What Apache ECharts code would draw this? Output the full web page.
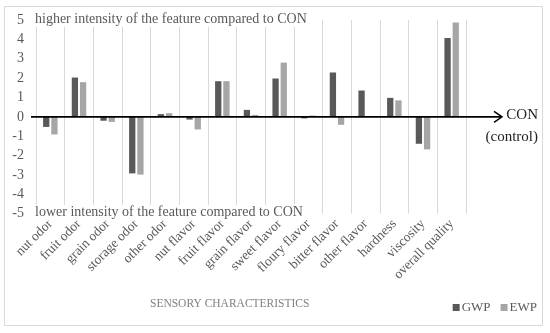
<!DOCTYPE html>
<html>
<head>
<meta charset="utf-8">
<script src="https://cdn.jsdelivr.net/npm/echarts@6/dist/echarts.min.js"></script>
<style>
html,body{margin:0;padding:0;background:#fff;}
#c{width:550px;height:333px;}
</style>
</head>
<body>
<div id="c"></div>
<script>
const categories = ['nut odor','fruit odor','grain odor','storage odor','other odor','nut flavor','fruit flavor','grain flavor','sweet flavor','floury flavor','bitter flavor','other flavor','hardness','viscosity','overall quality'];
const gwp = [-0.52, 2.03, -0.2, -2.92, 0.14, -0.14, 1.84, 0.36, 1.98, -0.08, 2.29, 1.36, 0.98, -1.39, 4.07];
const ewp = [-0.91, 1.79, -0.26, -2.98, 0.19, -0.65, 1.84, 0.1, 2.8, 0.07, -0.41, 0.03, 0.85, -1.68, 4.87];
const yTicks = [-5,-4,-3,-2,-1,0,1,2,3,4,5];

const FONT = '"Liberation Serif", "DejaVu Serif", serif';
const chart = echarts.init(document.getElementById('c'));
const option = {
  animation: false,
  backgroundColor: '#fff',
  grid: {left: 36, right: 84, top: 20, bottom: 119.3, containLabel: false},
  legend: {
    data: ['GWP','EWP'], right: 8, top: 296, icon: 'rect', itemWidth: 7, itemHeight: 7, itemGap: 10,
    textStyle: {fontFamily: FONT, fontSize: 13, color: '#595959', padding: [0,0,0,-3]}
  },
  xAxis: {
    type: 'category', data: categories,
    axisLine: {show: false}, axisTick: {show: false},
    axisLabel: {rotate: 45, interval: 0, margin: 8, fontFamily: FONT, fontSize: 13.5, color: '#595959'},
    splitLine: {show: true, lineStyle: {color: '#d9d9d9', width: 1}}
  },
  yAxis: {
    type: 'value', min: yTicks[0], max: yTicks[yTicks.length-1], interval: 1,
    axisLine: {show: false}, axisTick: {show: false}, splitLine: {show: false},
    axisLabel: {margin: 12, fontFamily: FONT, fontSize: 14, color: '#595959'}
  },
  series: [
    {name: 'GWP', type: 'bar', data: gwp, barWidth: 6.3, barGap: '30%', itemStyle: {color: '#595959'}},
    {name: 'EWP', type: 'bar', data: ewp, barWidth: 6.3, barGap: '30%', itemStyle: {color: '#a6a6a6'}}
  ]
};
chart.setOption(option);

const y0 = chart.convertToPixel({yAxisIndex: 0}, 0);
const y5 = chart.convertToPixel({yAxisIndex: 0}, 5);
const yM5 = chart.convertToPixel({yAxisIndex: 0}, -5);
const xEnd = 502;
chart.setOption({
  graphic: [
    {type: 'rect', shape: {x: 4.5, y: 6.5, width: 538, height: 319}, style: {fill: 'none', stroke: '#d9d9d9', lineWidth: 1}, z: 0},
    {type: 'text', left: 34, top: y5 - 9, style: {text: 'higher intensity of the feature compared to CON', fontFamily: FONT, fontSize: 14, fill: '#595959', backgroundColor: '#fff', padding: [1,2,1,1]}, z: 10},
    {type: 'text', left: 34, top: yM5 - 9, style: {text: 'lower intensity of the feature compared to CON', fontFamily: FONT, fontSize: 14, fill: '#595959', backgroundColor: '#fff', padding: [1,2,1,1]}, z: 10},
    {type: 'line', shape: {x1: 31, y1: y0, x2: xEnd, y2: y0}, style: {stroke: '#000', lineWidth: 1.8}, z: 20},
    {type: 'polyline', shape: {points: [[xEnd-8, y0-5.5],[xEnd, y0],[xEnd-8, y0+5.5]]}, style: {stroke: '#000', lineWidth: 1.5, fill: 'none'}, z: 20},
    {type: 'text', right: 12, top: y0 - 9, style: {text: 'CON', fontFamily: FONT, fontSize: 15, fill: '#222'}, z: 20},
    {type: 'text', right: 12, top: y0 + 13, style: {text: '(control)', fontFamily: FONT, fontSize: 15, fill: '#222'}, z: 20},
    {type: 'text', left: 150, top: 298, style: {text: 'SENSORY CHARACTERISTICS', fontFamily: FONT, fontSize: 11.5, fill: '#7f7f7f'}, z: 20}
  ]
});
</script>
</body>
</html>
